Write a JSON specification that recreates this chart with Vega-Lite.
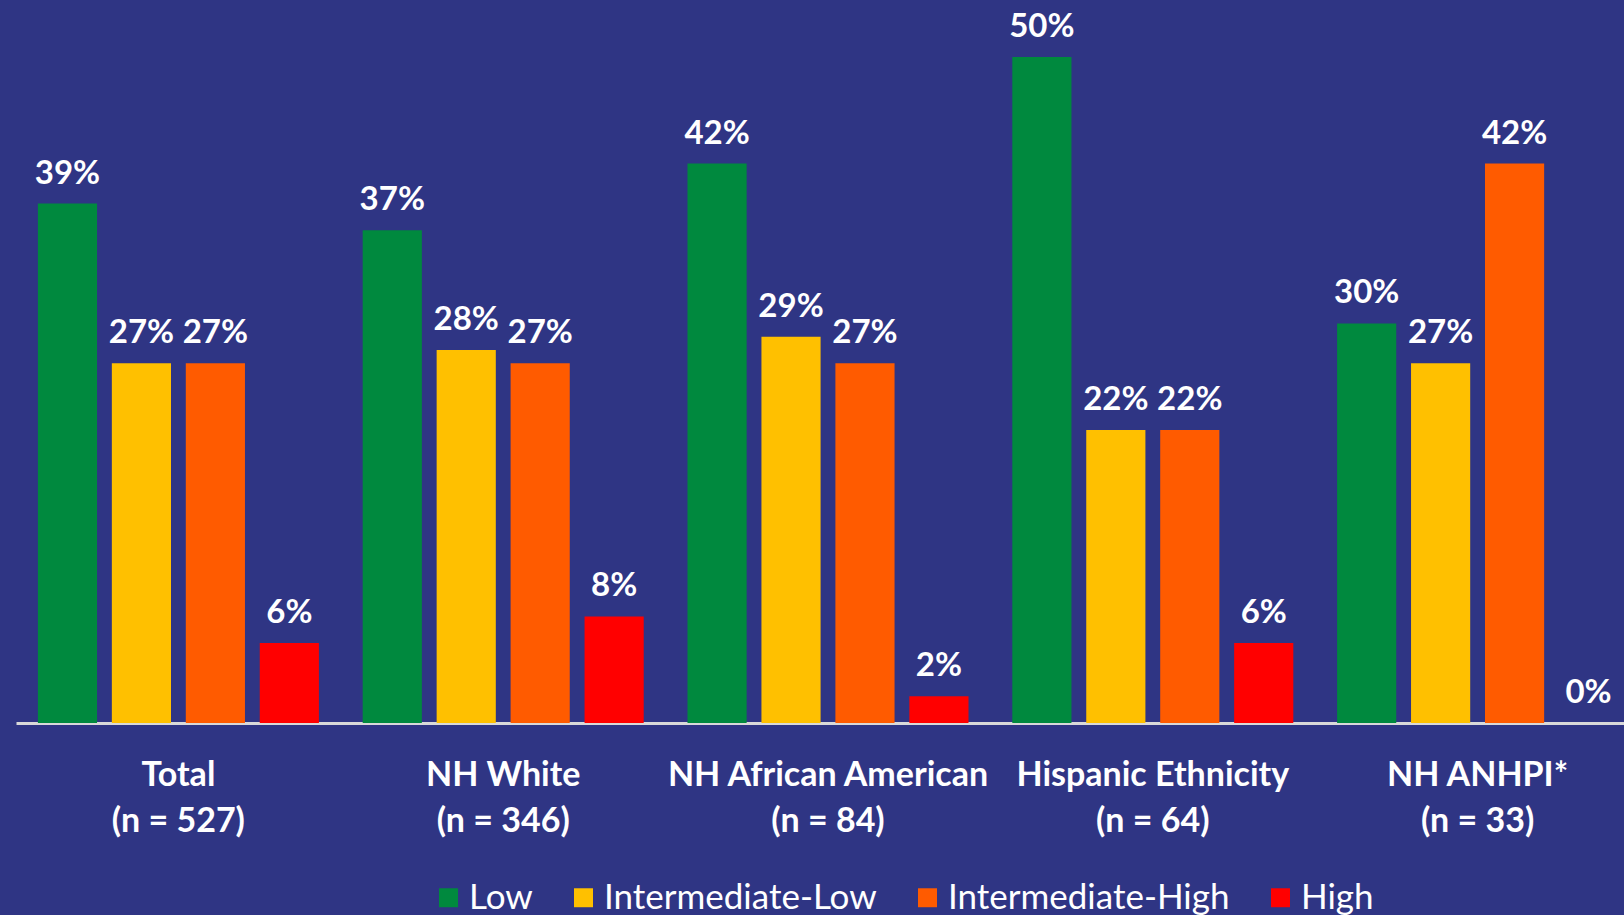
{
  "$schema": "https://vega.github.io/schema/vega-lite/v6.json",
  "width": 1608,
  "height": 723,
  "autosize": {"type": "none"},
  "padding": {"left": 16, "top": 0, "right": 0, "bottom": 192},
  "background": "#2F3584",
  "config": {
    "view": {"stroke": null},
    "font": "Lato"
  },
  "data": {
    "values": [
      {"group": "Total|(n = 527)", "level": "Low", "value": 0.39},
      {"group": "Total|(n = 527)", "level": "Intermediate-Low", "value": 0.27},
      {"group": "Total|(n = 527)", "level": "Intermediate-High", "value": 0.27},
      {"group": "Total|(n = 527)", "level": "High", "value": 0.06},
      {"group": "NH White|(n = 346)", "level": "Low", "value": 0.37},
      {"group": "NH White|(n = 346)", "level": "Intermediate-Low", "value": 0.28},
      {"group": "NH White|(n = 346)", "level": "Intermediate-High", "value": 0.27},
      {"group": "NH White|(n = 346)", "level": "High", "value": 0.08},
      {"group": "NH African American|(n = 84)", "level": "Low", "value": 0.42},
      {"group": "NH African American|(n = 84)", "level": "Intermediate-Low", "value": 0.29},
      {"group": "NH African American|(n = 84)", "level": "Intermediate-High", "value": 0.27},
      {"group": "NH African American|(n = 84)", "level": "High", "value": 0.02},
      {"group": "Hispanic Ethnicity|(n = 64)", "level": "Low", "value": 0.50},
      {"group": "Hispanic Ethnicity|(n = 64)", "level": "Intermediate-Low", "value": 0.22},
      {"group": "Hispanic Ethnicity|(n = 64)", "level": "Intermediate-High", "value": 0.22},
      {"group": "Hispanic Ethnicity|(n = 64)", "level": "High", "value": 0.06},
      {"group": "NH ANHPI*|(n = 33)", "level": "Low", "value": 0.30},
      {"group": "NH ANHPI*|(n = 33)", "level": "Intermediate-Low", "value": 0.27},
      {"group": "NH ANHPI*|(n = 33)", "level": "Intermediate-High", "value": 0.42},
      {"group": "NH ANHPI*|(n = 33)", "level": "High", "value": 0.0}
    ]
  },
  "encoding": {
    "x": {
      "field": "group",
      "type": "nominal",
      "sort": null,
      "scale": {"range": [0, 1624], "paddingInner": 0, "paddingOuter": 0},
      "axis": {
        "title": null,
        "labelAngle": 0,
        "ticks": false,
        "domainColor": "#D9D9D9",
        "domainWidth": 3,
        "labelExpr": "split(datum.label, '|')",
        "labelColor": "#FFFFFF",
        "labelFont": "Lato",
        "labelFontWeight": "bold",
        "labelFontSize": 34,
        "labelLineHeight": 46,
        "labelPadding": 35,
        "labelBaseline": "top",
        "labelLimit": 500
      }
    },
    "xOffset": {
      "field": "level",
      "type": "nominal",
      "sort": ["Low", "Intermediate-Low", "Intermediate-High", "High"],
      "scale": {"paddingInner": 0.2, "paddingOuter": 0.296}
    },
    "y": {
      "field": "value",
      "type": "quantitative",
      "scale": {"domain": [0, 0.5428]},
      "axis": null
    }
  },
  "layer": [
    {
      "mark": {"type": "bar"},
      "encoding": {
        "color": {
          "field": "level",
          "type": "nominal",
          "sort": ["Low", "Intermediate-Low", "Intermediate-High", "High"],
          "scale": {
            "domain": ["Low", "Intermediate-Low", "Intermediate-High", "High"],
            "range": ["#00893E", "#FFC000", "#FF5B00", "#FF0000"]
          },
          "legend": {
            "title": null,
            "orient": "none",
            "direction": "horizontal",
            "legendX": 415,
            "legendY": 880,
            "symbolType": "square",
            "symbolSize": 360,
            "symbolStrokeWidth": 0,
            "symbolOpacity": 1,
            "labelColor": "#FFFFFF",
            "labelFont": "Lato",
            "labelFontSize": 35,
            "labelOffset": 3,
            "labelLimit": 400,
            "columnPadding": 33
          }
        }
      }
    },
    {
      "mark": {
        "type": "text",
        "baseline": "alphabetic",
        "dy": -20,
        "color": "#FFFFFF",
        "font": "Lato",
        "fontWeight": "bold",
        "fontSize": 33
      },
      "encoding": {
        "text": {"field": "value", "type": "quantitative", "format": ".0%"}
      }
    }
  ]
}
